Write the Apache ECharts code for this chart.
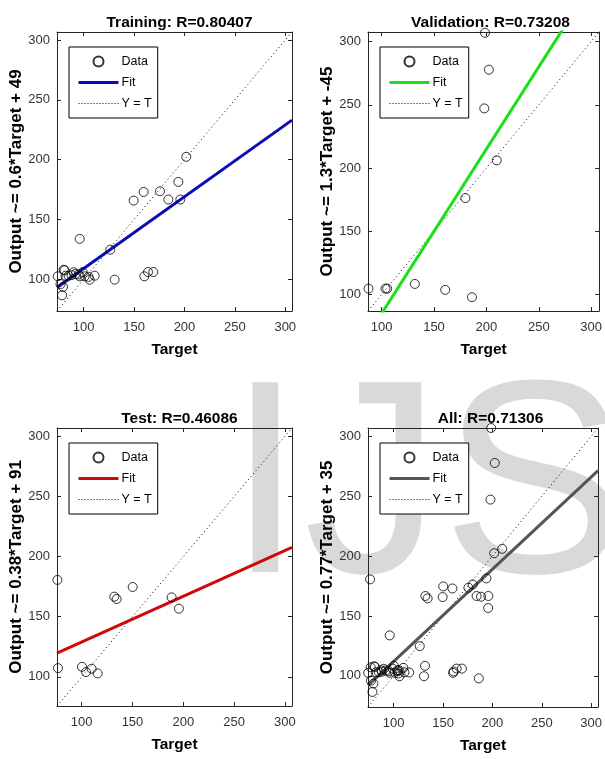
<!DOCTYPE html>
<html><head><meta charset="utf-8">
<script src="https://cdn.jsdelivr.net/npm/echarts@6/dist/echarts.min.js"></script>
<style>html,body{margin:0;padding:0;background:#fff}#c{width:605px;height:759px}</style>
</head><body><div id="c"></div>
<script>
// ---- data (Target, Output) ----
const trainT = [201.8,193.9,195.9,184,175.7,159.5,149.6,96,126.4,130.7,160.2,163.8,169.1,110.9,105.9,101,96,90,85,80.2,82,74.2,79.5,78.5,81,95,104.8,88,92,77,99];
const trainY = [202.4,181.4,166.7,166.7,173.6,173,165.8,133.8,124.8,99.7,102.5,106.1,106.1,103,99.7,102.5,102.5,105.9,103,108,103,102.5,93.6,86.6,107.5,104,102,103.5,104.5,96,106];
const valT = [198.7,202.4,198,209.9,180,131.7,160.7,186.2,87.5,103.7,105.3];
const valY = [307,277.8,247.2,206.1,176.3,108.4,103.7,97.9,104.7,104.7,104.7];
const testT = [76.1,76.7,150.2,132.1,134.4,188.5,195.7,100.3,104.3,109.8,115.7];
const testY = [180.6,107.2,174.7,166.7,164.7,166.1,156.7,108.3,103.9,106.7,102.8];
const allT = trainT.concat(valT, testT);
const allY = trainY.concat(valY, testY);
// regression fits [slope, intercept]
const fits = [[0.6,49],[1.3,-45],[0.38,91],[0.77,35]];
const ranges = [[73.5,306.7],[87,307.6],[75.7,307],[74,307]];
const tickVals = [100,150,200,250,300];
const titles = ['Training: R=0.80407','Validation: R=0.73208','Test: R=0.46086','All: R=0.71306'];
const yNames = ['Output ~= 0.6*Target + 49','Output ~= 1.3*Target + -45','Output ~= 0.38*Target + 91','Output ~= 0.77*Target + 35'];
const fitColors = ['#0a0ab4','#19e019','#cc0a0a','#555555'];

const sets = [[trainT,trainY],[valT,valY],[testT,testY],[allT,allY]];
const grids = [
  {left:57, top:32, width:235, height:279},
  {left:368, top:32, width:235, height:279},
  {left:57, top:428, width:235, height:278},
  {left:368, top:428, width:235, height:279}
];
const SANS = '"Liberation Sans",Arial,sans-serif';
const axC = '#262626';
const hideSym = {color:'rgba(0,0,0,0)', borderWidth:0, borderColor:'rgba(0,0,0,0)'};

const option = {
  animation:false,
  backgroundColor:'#fff',
  grid: grids.map(g=>Object.assign({containLabel:false}, g)),
  title: grids.map((g,i)=>({
    text: titles[i], left: g.left + g.width/2, top: g.top - 22, textAlign:'center',
    textStyle:{fontFamily:SANS, fontWeight:'bold', fontSize:15.5, color:'#000'}
  })),
  xAxis: [], yAxis: [], series: [], legend: [],
  graphic: [{
    type:'text', x:227, y:496, z:-10, silent:true,
    style:{text:'IJSER', fontSize:276, fontFamily:'Liberation Sans', fill:'#d9d9d9', verticalAlign:'middle', align:'left'}
  }]
};

grids.forEach((g,i)=>{
  const [mn,mx] = ranges[i];
  const common = {gridIndex:i, type:'value', min:mn, max:mx, splitLine:{show:false},
    axisLine:{show:true, onZero:false, lineStyle:{color:axC, width:1}},
    axisTick:{show:true, inside:true, length:4, customValues:tickVals, lineStyle:{color:axC}}};
  option.xAxis.push(Object.assign({}, common, {position:'bottom',
    axisLabel:{show:true, customValues:tickVals, margin:10, fontFamily:SANS, fontSize:13, color:'#333'},
    name:'Target', nameLocation:'middle', nameGap:31,
    nameTextStyle:{fontFamily:SANS, fontWeight:'bold', fontSize:15.5, color:'#000'}}));
  option.xAxis.push(Object.assign({}, common, {position:'top', axisLabel:{show:false}}));
  option.yAxis.push(Object.assign({}, common, {position:'left',
    axisLabel:{show:true, customValues:tickVals, margin:7, fontFamily:SANS, fontSize:13, color:'#333'},
    name:yNames[i], nameLocation:'middle', nameGap:30, nameRotate:90,
    nameTextStyle:{fontFamily:SANS, fontWeight:'bold', fontSize:17, color:'#000'}}));
  option.yAxis.push(Object.assign({}, common, {position:'right', axisLabel:{show:false}}));
  const xi = i*2, yi = i*2;
  const [a,b] = fits[i];
  option.series.push({
    name:'Data#'+i, type:'scatter', xAxisIndex:xi, yAxisIndex:yi, symbol:'circle', symbolSize:9,
    itemStyle:{color:'rgba(255,255,255,0)', borderColor:'#000', borderWidth:1},
    data: sets[i][0].map((t,k)=>[t, sets[i][1][k]]), z:5
  });
  option.series.push({
    name:'Fit#'+i, type:'line', xAxisIndex:xi, yAxisIndex:yi, symbol:'none', clip:true,
    lineStyle:{color:fitColors[i], width:3}, itemStyle:{color:fitColors[i]},
    data:[[mn, a*mn+b],[mx, a*mx+b]], z:4
  });
  option.series.push({
    name:'Y = T#'+i, type:'line', xAxisIndex:xi, yAxisIndex:yi, symbol:'none', clip:true,
    lineStyle:{color:'#000', width:1, type:[1,3]}, itemStyle:{color:'#000'},
    data:[[mn,mn],[mx,mx]], z:3
  });
  option.legend.push({
    left: g.left + 12, top: g.top + 15, orient:'vertical', selectedMode:false,
    data:[{name:'Data#'+i},
          {name:'Fit#'+i, itemStyle:hideSym, lineStyle:{width:3, color:fitColors[i]}},
          {name:'Y = T#'+i, itemStyle:hideSym, lineStyle:{width:1, color:'#000', type:[1,2]}}],
    formatter: n => n.split('#')[0],
    itemWidth:40, itemHeight:10, itemGap:8, padding:[8,6,8,8],
    borderColor:'#000', borderWidth:1, backgroundColor:'#fff', borderRadius:0,
    textStyle:{fontFamily:SANS, fontSize:12.5, color:'#000', padding:[0,0,0,-2]}
  });
});

const chart = echarts.init(document.getElementById('c'), null, {renderer:'canvas'});
chart.setOption(option);
</script>
</body></html>
